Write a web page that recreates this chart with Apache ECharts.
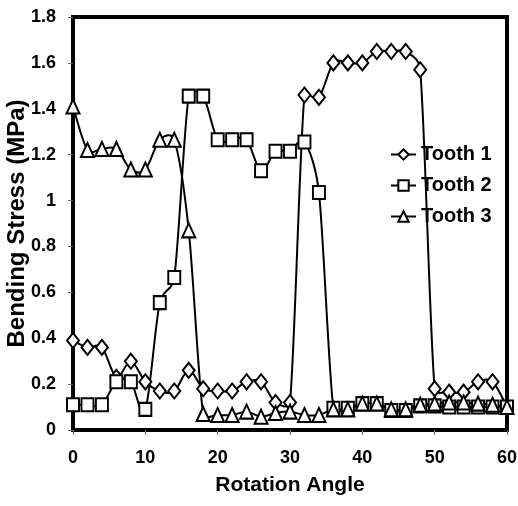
<!DOCTYPE html>
<html>
<head>
<meta charset="utf-8">
<script src="https://cdn.jsdelivr.net/npm/echarts@6/dist/echarts.min.js"></script>
<style>
html,body{margin:0;padding:0;background:#fff;}
#c{width:518px;height:506px;}
</style>
</head>
<body>
<div id="c"></div>
<script>
const angles = [0,2,4,6,8,10,12,14,16,18,20,22,24,26,28,30,32,34,36,38,40,42,44,46,48,50,52,54,56,58,60];
const tooth1 = [0.39,0.36,0.36,0.23,0.30,0.21,0.17,0.17,0.26,0.18,0.17,0.17,0.21,0.21,0.12,0.12,1.46,1.45,1.60,1.60,1.60,1.65,1.65,1.65,1.57,0.18,0.165,0.165,0.21,0.21,0.10];
const tooth2 = [0.11,0.11,0.11,0.21,0.21,0.09,0.555,0.665,1.455,1.455,1.265,1.265,1.265,1.13,1.215,1.215,1.255,1.035,0.095,0.095,0.115,0.115,0.085,0.085,0.105,0.105,0.10,0.10,0.10,0.10,0.10];
const tooth3 = [1.41,1.22,1.225,1.225,1.135,1.135,1.265,1.265,0.87,0.07,0.065,0.065,0.08,0.058,0.074,0.08,0.065,0.065,0.09,0.09,0.115,0.115,0.09,0.09,0.11,0.115,0.12,0.12,0.115,0.11,0.10];
const seriesNames = ['Tooth 1','Tooth 2','Tooth 3'];
const xTitle = 'Rotation Angle';
const yTitle = 'Bending Stress (MPa)';

const FONT = "'Liberation Sans', Arial, sans-serif";
function pairs(vals){ return angles.map((a,i)=>[a, vals[i]]); }

// Excel-style smoothed curve (bezier with capped Catmull-Rom tangents) drawn through the axis scales
function curveRender(params, api){
  const n = params.dataInsideLength;
  const i = params.dataIndexInside;
  if (i >= n - 1) return null;
  const pt = j => { j = Math.max(0, Math.min(n-1, j)); return api.coord([api.value(0,j), api.value(1,j)]); };
  const p0 = pt(i-1), p1 = pt(i), p2 = pt(i+1), p3 = pt(i+2);
  const t = 1/6, k = 0.5;
  const seg = Math.hypot(p2[0]-p1[0], p2[1]-p1[1]);
  function tang(a, b){
    let tx = (b[0]-a[0])*t, ty = (b[1]-a[1])*t;
    const len = Math.hypot(tx, ty);
    const lim = k*seg;
    if (len > lim && len > 0){ tx *= lim/len; ty *= lim/len; }
    return [tx, ty];
  }
  const t1 = tang(p0, p2), t2 = tang(p1, p3);
  return {
    type:'bezierCurve',
    shape:{
      x1:p1[0], y1:p1[1], x2:p2[0], y2:p2[1],
      cpx1:p1[0]+t1[0], cpy1:p1[1]+t1[1],
      cpx2:p2[0]-t2[0], cpy2:p2[1]-t2[1]
    },
    style:{stroke:'#000', lineWidth:2, fill:null}
  };
}
function curveSeries(vals){
  return {type:'custom', data:pairs(vals), renderItem:curveRender, clip:true, z:2, silent:true,
          encode:{x:0, y:1}, animation:false};
}
function markSeries(name, vals, symbol, size){
  return {
    name: name, type: 'line', data: pairs(vals), z:3,
    symbol: symbol, symbolSize: size, showAllSymbol: true,
    lineStyle: {color:'#000', width:0, opacity:0},
    itemStyle: {color:'#fff', borderColor:'#000', borderWidth:2},
    emphasis: {disabled:true},
    animation: false
  };
}
const chart = echarts.init(document.getElementById('c'), null, {renderer:'canvas'});
chart.setOption({
  backgroundColor: '#fff',
  animation: false,
  grid: {left:73, right:11, top:17, bottom:76, show:true, borderColor:'#000', borderWidth:4, backgroundColor:'transparent', containLabel:false, outerBoundsMode:'none'},
  legend: {
    orient:'vertical', left:385, top:139,
    itemWidth:25, itemHeight:13, itemGap:10,
    lineStyle:{color:'#000', width:2, opacity:1},
    textStyle:{fontFamily:FONT, fontWeight:'bold', fontSize:20, color:'#000', lineHeight:21},
    data: seriesNames
  },
  xAxis: {
    type:'value', min:0, max:60, interval:10,
    name: xTitle, nameLocation:'middle', nameGap:45, nameMoveOverlap:false,
    nameTextStyle:{fontFamily:FONT, fontWeight:'bold', fontSize:21, color:'#000'},
    axisLine:{show:true, lineStyle:{color:'#000', width:4}},
    axisTick:{show:true, length:5, lineStyle:{color:'#666', width:1}},
    axisLabel:{margin:19, fontFamily:FONT, fontWeight:'bold', fontSize:18, color:'#000'},
    splitLine:{show:false}
  },
  yAxis: {
    type:'value', min:0, max:1.8, interval:0.2,
    name: yTitle, nameLocation:'middle', nameGap:44, nameRotate:90, nameMoveOverlap:false,
    nameTextStyle:{fontFamily:FONT, fontWeight:'bold', fontSize:24, color:'#000'},
    axisLine:{show:true, lineStyle:{color:'#000', width:4}},
    axisTick:{show:true, length:5, lineStyle:{color:'#666', width:1}},
    axisLabel:{margin:17, fontFamily:FONT, fontWeight:'bold', fontSize:18, color:'#000'},
    splitLine:{show:false}
  },
  series: [
    curveSeries(tooth1), curveSeries(tooth2), curveSeries(tooth3),
    markSeries(seriesNames[0], tooth1, 'diamond', [12,15]),
    markSeries(seriesNames[1], tooth2, 'rect', [12,13]),
    markSeries(seriesNames[2], tooth3, 'triangle', [13,14])
  ]
});
</script>
</body>
</html>
